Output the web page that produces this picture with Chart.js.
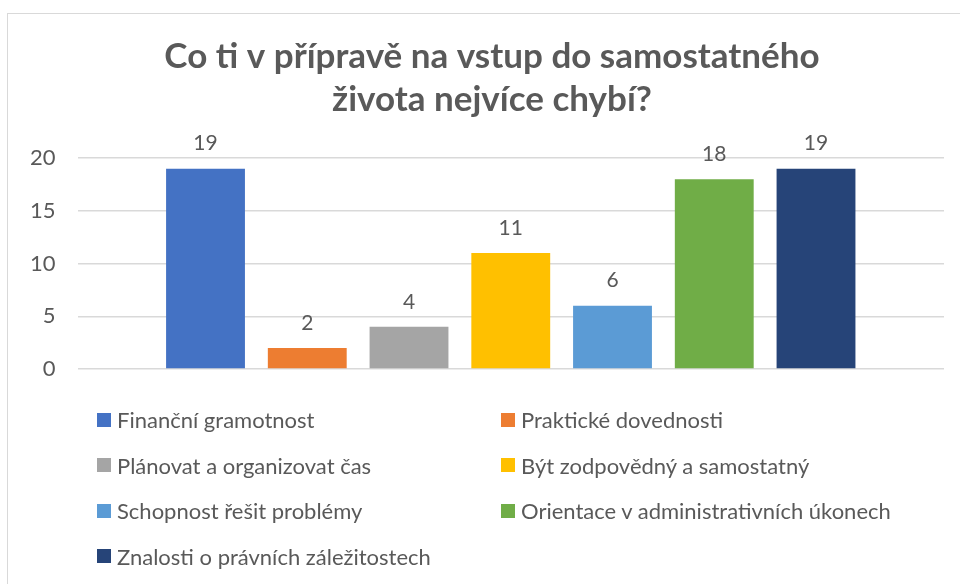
<!DOCTYPE html>
<html>
<head>
<meta charset="utf-8">
<script src="https://cdn.jsdelivr.net/npm/chart.js@4/dist/chart.umd.min.js"></script>
<style>
  html, body { margin: 0; padding: 0; background: #fff; overflow: hidden; }
  #frame { position: absolute; left: 7px; top: 13px; width: 980px; height: 600px; border: 1px solid #d9d9d9; }
  #wrap { position: absolute; left: 0; top: 0; width: 960px; height: 584px; }
  #legend { position: absolute; left: 97px; top: 397px; display: grid; grid-template-columns: 404px auto; grid-auto-rows: 45.5px; align-items: center;
    font-family: Lato, sans-serif; font-size: 22px; color: #595959; }
  .item { display: flex; align-items: center; white-space: nowrap; }
  .box { width: 14px; height: 14px; margin-right: 6px; }
</style>
</head>
<body>
<div id="frame"></div>
<div id="wrap"><canvas id="chart" width="960" height="584"></canvas></div>
<div id="legend"></div>
<script>
/* Data */
let titleLines = ['Co ti v přípravě na vstup do samostatného', 'života nejvíce chybí?']
let answers = [
    'Finanční gramotnost',
    'Praktické dovednosti',
    'Plánovat a organizovat čas',
    'Být zodpovědný a samostatný',
    'Schopnost řešit problémy',
    'Orientace v administrativních úkonech',
    'Znalosti o právních záležitostech'
]
let counts = [19, 2, 4, 11, 6, 18, 19]
let barColors = ['#4472C4', '#ED7D31', '#A5A5A5', '#FFC000', '#5B9BD5', '#70AD47', '#264478']
let yTicks = [0, 5, 10, 15, 20]

let textColor = '#595959'

// one dataset per answer, so each bar gets its own legend entry
let datasets = answers.map(function(name, i) {
    return {
        label: name,
        data: [counts[i]],
        backgroundColor: barColors[i],
        barPercentage: 0.775,
        categoryPercentage: 0.822
    }
})

// numbers above the bars
let valueLabels = {
    id: 'valueLabels',
    afterDatasetsDraw(chart) {
        let ctx = chart.ctx
        ctx.save()
        ctx.font = '21px Lato'
        ctx.fillStyle = textColor
        ctx.textAlign = 'center'
        ctx.textBaseline = 'middle'
        chart.data.datasets.forEach(function(ds, i) {
            let bar = chart.getDatasetMeta(i).data[0]
            ctx.fillText(ds.data[0], bar.x, bar.y - 25)
        })
        ctx.restore()
    }
}

// legend in two columns, built from the chart's own legend items
let htmlLegend = {
    id: 'htmlLegend',
    afterUpdate(chart) {
        let box = document.querySelector('#legend')
        box.innerHTML = ''
        chart.options.plugins.legend.labels.generateLabels(chart).forEach(function(item) {
            let row = document.createElement('div')
            row.className = 'item'
            let swatch = document.createElement('span')
            swatch.className = 'box'
            swatch.style.background = item.fillStyle
            let txt = document.createElement('span')
            txt.textContent = item.text
            row.appendChild(swatch)
            row.appendChild(txt)
            box.appendChild(row)
        })
    }
}

let ctx = document.querySelector('#chart').getContext('2d')
let chart = new Chart(ctx, {
    type: 'bar',
    data: {
        labels: [''],
        datasets: datasets
    },
    options: {
        responsive: false,
        animation: false,
        // negative right padding + empty right axis moves the title centre without moving the plot
        layout: { padding: { top: 35, left: 8, right: -16, bottom: 215 } },
        plugins: {
            legend: { display: false },
            tooltip: { enabled: false },
            title: {
                display: true,
                text: titleLines,
                color: textColor,
                font: { family: 'Lato', size: 35, weight: 'bold', lineHeight: 1.23 },
                padding: { top: 0, bottom: 37 }
            }
        },
        scales: {
            x: { display: false },
            y: {
                min: 0,
                max: 20,
                afterBuildTicks(axis) {
                    axis.ticks = yTicks.map(function(v) { return { value: v } })
                },
                border: { display: false },
                grid: { color: '#d9d9d9', lineWidth: 1.5, drawTicks: false },
                ticks: { color: textColor, font: { family: 'Lato', size: 22 }, padding: 22 }
            },
            spacer: {
                type: 'linear',
                position: 'right',
                min: 0,
                max: 20,
                afterFit(axis) {
                    axis.width = 32
                },
                border: { display: false },
                grid: { display: false },
                ticks: { display: false }
            }
        }
    },
    plugins: [valueLabels, htmlLegend]
})
</script>
</body>
</html>
